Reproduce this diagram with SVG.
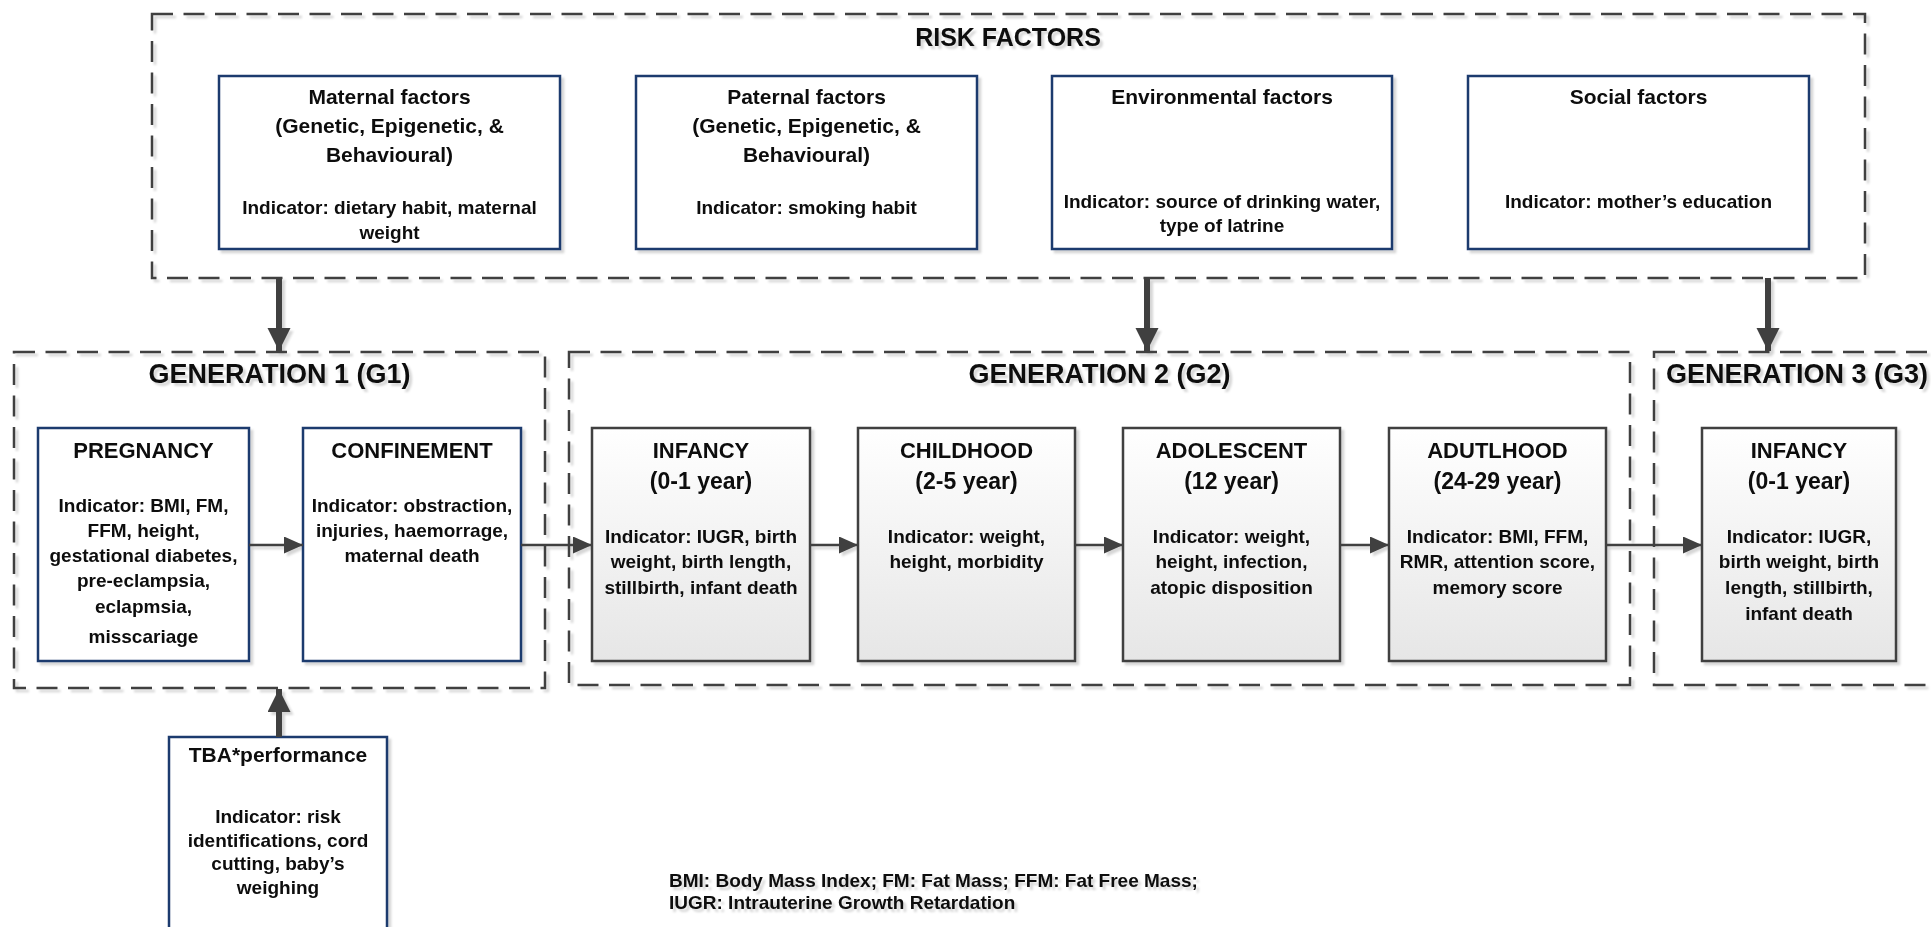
<svg xmlns="http://www.w3.org/2000/svg" width="1931" height="927" viewBox="0 0 1931 927">
<defs>
<filter id="sh" filterUnits="userSpaceOnUse" x="0" y="0" width="1931" height="927">
<feGaussianBlur in="SourceAlpha" stdDeviation="0.8"/>
<feOffset dx="3" dy="3" result="o"/>
<feFlood flood-color="#000" flood-opacity="0.16"/>
<feComposite in2="o" operator="in"/>
<feMerge><feMergeNode/><feMergeNode in="SourceGraphic"/></feMerge>
</filter>
<linearGradient id="gf" x1="0" y1="0" x2="0" y2="1">
<stop offset="0" stop-color="#ffffff"/>
<stop offset="1" stop-color="#e6e6e6"/>
</linearGradient>
<marker id="ah" markerUnits="userSpaceOnUse" markerWidth="20" markerHeight="18" refX="19" refY="8.5" orient="auto">
<path d="M0,0 L19,8.5 L0,17 Z" fill="#404040"/>
</marker>
<marker id="ahb" markerUnits="userSpaceOnUse" markerWidth="24" markerHeight="24" refX="23" refY="11.5" orient="auto">
<path d="M0,0 L23,11.5 L0,23 Z" fill="#404040"/>
</marker>
<style>
text{font-family:"Liberation Sans",Arial,sans-serif;font-weight:bold;fill:#0d0d0d;text-anchor:middle}
.b{font-size:19px}
.t21{font-size:21px}
.t22{font-size:22px}
.t23{font-size:23px}
.g{font-size:27px}
.rf{font-size:25px}
.fn{font-size:19px;text-anchor:start}
.dash{fill:none;stroke:#404040;stroke-width:2.5;stroke-dasharray:21 10.5}
.blue{fill:#ffffff;stroke:#1f3a6e;stroke-width:2.5}
.gray{fill:url(#gf);stroke:#404040;stroke-width:2.5}
.thin{stroke:#404040;stroke-width:2.5;fill:none}
.thick{stroke:#404040;stroke-width:6;fill:none}
</style>
</defs>
<rect x="0" y="0" width="1931" height="927" fill="#ffffff"/>
<g filter="url(#sh)">
<g id="containers">
<rect class="dash" x="152" y="14" width="1713" height="264"/>
<text class="rf" x="1008" y="46">RISK FACTORS</text>
<rect class="dash" x="14" y="352" width="531" height="336"/>
<text class="g" x="279.5" y="383">GENERATION 1 (G1)</text>
<rect class="dash" x="569" y="352" width="1061" height="333"/>
<text class="g" x="1099.5" y="383">GENERATION 2 (G2)</text>
<rect class="dash" x="1654" y="352" width="300" height="333"/>
<text class="g" x="1797" y="383">GENERATION 3 (G3)</text>
</g>
<g id="maternal">
<rect class="blue" x="219" y="76" width="341" height="173"/>
<text class="t21" x="389.5" y="104">Maternal factors</text>
<text class="t21" x="389.5" y="133">(Genetic, Epigenetic, &amp;</text>
<text class="t21" x="389.5" y="162">Behavioural)</text>
<text class="b" x="389.5" y="214">Indicator: dietary habit, maternal</text>
<text class="b" x="389.5" y="239">weight</text>
</g>
<g id="paternal">
<rect class="blue" x="636" y="76" width="341" height="173"/>
<text class="t21" x="806.5" y="104">Paternal factors</text>
<text class="t21" x="806.5" y="133">(Genetic, Epigenetic, &amp;</text>
<text class="t21" x="806.5" y="162">Behavioural)</text>
<text class="b" x="806.5" y="214">Indicator: smoking habit</text>
</g>
<g id="environmental">
<rect class="blue" x="1052" y="76" width="340" height="173"/>
<text class="t21" x="1222" y="104">Environmental factors</text>
<text class="b" x="1222" y="208">Indicator: source of drinking water,</text>
<text class="b" x="1222" y="232">type of latrine</text>
</g>
<g id="social">
<rect class="blue" x="1468" y="76" width="341" height="173"/>
<text class="t21" x="1638.5" y="104">Social factors</text>
<text class="b" x="1638.5" y="208">Indicator: mother’s education</text>
</g>
<g id="pregnancy">
<rect class="blue" x="38" y="428" width="211" height="233"/>
<text class="t22" x="143.5" y="458">PREGNANCY</text>
<text class="b" x="143.5" y="512">Indicator: BMI, FM,</text>
<text class="b" x="143.5" y="537">FFM, height,</text>
<text class="b" x="143.5" y="562">gestational diabetes,</text>
<text class="b" x="143.5" y="587">pre-eclampsia,</text>
<text class="b" x="143.5" y="613">eclapmsia,</text>
<text class="b" x="143.5" y="643">misscariage</text>
</g>
<g id="confinement">
<rect class="blue" x="303" y="428" width="218" height="233"/>
<text class="t22" x="412" y="458">CONFINEMENT</text>
<text class="b" x="412" y="512">Indicator: obstraction,</text>
<text class="b" x="412" y="537">injuries, haemorrage,</text>
<text class="b" x="412" y="562">maternal death</text>
</g>
<g id="infancy2">
<rect class="gray" x="592" y="428" width="218" height="233"/>
<text class="t22" x="701" y="458">INFANCY</text>
<text class="t23" x="701" y="489">(0-1 year)</text>
<text class="b" x="701" y="543">Indicator: IUGR, birth</text>
<text class="b" x="701" y="568">weight, birth length,</text>
<text class="b" x="701" y="594">stillbirth, infant death</text>
</g>
<g id="childhood">
<rect class="gray" x="858" y="428" width="217" height="233"/>
<text class="t22" x="966.5" y="458">CHILDHOOD</text>
<text class="t23" x="966.5" y="489">(2-5 year)</text>
<text class="b" x="966.5" y="543">Indicator: weight,</text>
<text class="b" x="966.5" y="568">height, morbidity</text>
</g>
<g id="adolescent">
<rect class="gray" x="1123" y="428" width="217" height="233"/>
<text class="t22" x="1231.5" y="458">ADOLESCENT</text>
<text class="t23" x="1231.5" y="489">(12 year)</text>
<text class="b" x="1231.5" y="543">Indicator: weight,</text>
<text class="b" x="1231.5" y="568">height, infection,</text>
<text class="b" x="1231.5" y="594">atopic disposition</text>
</g>
<g id="adulthood">
<rect class="gray" x="1389" y="428" width="217" height="233"/>
<text class="t22" x="1497.5" y="458">ADUTLHOOD</text>
<text class="t23" x="1497.5" y="489">(24-29 year)</text>
<text class="b" x="1497.5" y="543">Indicator: BMI, FFM,</text>
<text class="b" x="1497.5" y="568">RMR, attention score,</text>
<text class="b" x="1497.5" y="594">memory score</text>
</g>
<g id="infancy3">
<rect class="gray" x="1702" y="428" width="194" height="233"/>
<text class="t22" x="1799" y="458">INFANCY</text>
<text class="t23" x="1799" y="489">(0-1 year)</text>
<text class="b" x="1799" y="543">Indicator: IUGR,</text>
<text class="b" x="1799" y="568">birth weight, birth</text>
<text class="b" x="1799" y="594">length, stillbirth,</text>
<text class="b" x="1799" y="620">infant death</text>
</g>
<g id="tba">
<rect class="blue" x="169" y="737" width="218" height="210"/>
<text class="t21" x="278" y="762">TBA*performance</text>
<text class="b" x="278" y="823">Indicator: risk</text>
<text class="b" x="278" y="846.5">identifications, cord</text>
<text class="b" x="278" y="870">cutting, baby’s</text>
<text class="b" x="278" y="893.5">weighing</text>
</g>
<g id="footnote">
<text class="fn" x="669" y="887">BMI: Body Mass Index; FM: Fat Mass; FFM: Fat Free Mass;</text>
<text class="fn" x="669" y="909">IUGR: Intrauterine Growth Retardation</text>
</g>
<g id="connectors">
<line class="thin" x1="249" y1="545" x2="303" y2="545" marker-end="url(#ah)"/>
<line class="thin" x1="521" y1="545" x2="592" y2="545" marker-end="url(#ah)"/>
<line class="thin" x1="810" y1="545" x2="858" y2="545" marker-end="url(#ah)"/>
<line class="thin" x1="1075" y1="545" x2="1123" y2="545" marker-end="url(#ah)"/>
<line class="thin" x1="1340" y1="545" x2="1389" y2="545" marker-end="url(#ah)"/>
<line class="thin" x1="1606" y1="545" x2="1702" y2="545" marker-end="url(#ah)"/>
<line class="thick" x1="279" y1="278" x2="279" y2="351" marker-end="url(#ahb)"/>
<line class="thick" x1="1147" y1="278" x2="1147" y2="351" marker-end="url(#ahb)"/>
<line class="thick" x1="1768" y1="278" x2="1768" y2="351" marker-end="url(#ahb)"/>
<line class="thick" x1="279" y1="737" x2="279" y2="689" marker-end="url(#ahb)"/>
</g>
</g>
</svg>
